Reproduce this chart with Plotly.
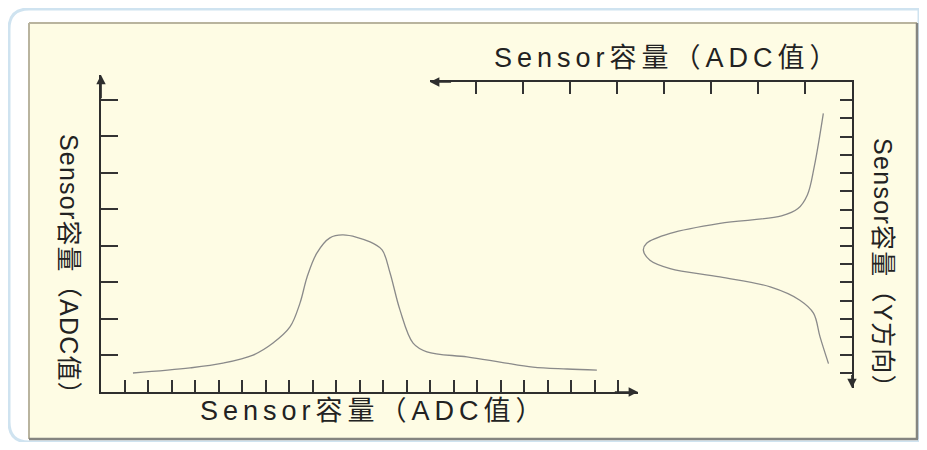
import plotly.graph_objects as go

OFF = 8              # browser body margin
W, H = 927 - 2 * OFF, 450 - 2 * OFF

# ---- data (axis units: one unit = one tick step) ----
# left chart: Sensor capacity profile along X
left_x = [1.36, 3.79, 5.19, 6.47, 7.32, 8.04, 8.47, 8.77, 9.19, 9.74, 10.3, 11.45, 11.96, 12.3, 12.72, 13.28, 13.87, 15.57, 16.98, 18.38, 19.83, 21.1]
left_y = [0.52, 0.66, 0.79, 1.01, 1.34, 1.78, 2.44, 3.15, 3.81, 4.22, 4.30, 4.11, 3.89, 3.26, 2.25, 1.34, 1.10, 0.96, 0.82, 0.68, 0.63, 0.60]
left_xticks = list(range(1, 23))
left_yticks = list(range(1, 9))

# right chart: Sensor capacity profile along Y (value grows leftwards, position grows downwards)
right_val = [0.61, 0.80, 0.95, 1.15, 1.50, 2.81, 3.87, 4.37, 4.44, 4.30, 3.87, 2.81, 1.74, 1.11, 0.82, 0.68, 0.50]
right_pos = [1.72, 4.60, 6.20, 6.95, 7.35, 7.76, 8.31, 8.85, 9.23, 9.78, 10.24, 10.70, 11.25, 11.98, 12.69, 13.99, 15.46]
right_xticks = list(range(1, 9))
right_yticks = list(range(1, 17))

label_adc = "Sensor容量（ADC值）"
label_y = "Sensor容量（Y方向）"

FONT = "Liberation Sans, Noto Sans CJK SC, sans-serif"
AX = "#2e2e2e"
CURVE = "#8a8a8a"


def px(x):
    return (x - OFF) / W


def py(y):
    return 1 - (y - OFF) / H


def spaced(text, sp):
    return f'<span style="letter-spacing:{sp}px">{text}</span>'


fig = go.Figure()
fig.add_trace(go.Scatter(x=left_x, y=left_y, mode="lines", xaxis="x", yaxis="y",
                         line=dict(color=CURVE, width=1.3, shape="spline", smoothing=1.0),
                         hoverinfo="skip", showlegend=False))
fig.add_trace(go.Scatter(x=right_val, y=right_pos, mode="lines", xaxis="x2", yaxis="y2",
                         line=dict(color=CURVE, width=1.3, shape="spline", smoothing=1.0),
                         hoverinfo="skip", showlegend=False))

common = dict(showline=True, linecolor=AX, linewidth=1.7, ticks="inside", tickcolor="#333",
              tickwidth=1.6, showticklabels=False, showgrid=False, zeroline=False, fixedrange=True)

fig.update_layout(
    width=W, height=H,
    margin=dict(l=0, r=0, t=0, b=0),
    paper_bgcolor="white", plot_bgcolor="rgba(0,0,0,0)",
    xaxis=dict(domain=[px(101), px(638)], range=[0, 22.85], tickvals=left_xticks, ticklen=12,
               anchor="y", **common),
    yaxis=dict(domain=[py(392), py(75)], range=[0, 8.68], tickvals=left_yticks, ticklen=17,
               anchor="x", **common),
    xaxis2=dict(domain=[px(430), px(852)], range=[8.98, 0], tickvals=right_xticks, ticklen=12,
                side="top", anchor="y2", **common),
    yaxis2=dict(domain=[py(388), py(82)], range=[16.8, 0], tickvals=right_yticks, ticklen=12,
                side="right", anchor="x2", **common),
)

# ---- frame shapes ----
r = 20
x0, y0, x1, y1 = 9, 9, 919, 442
path = (f"M {px(x0 + r)},{py(y0)} L {px(x1)},{py(y0)} L {px(x1)},{py(y1)} "
        f"L {px(x0 + r)},{py(y1)} Q {px(x0)},{py(y1)} {px(x0)},{py(y1 - r)} "
        f"L {px(x0)},{py(y0 + r)} Q {px(x0)},{py(y0)} {px(x0 + r)},{py(y0)} Z")
fig.add_shape(type="path", path=path, xref="paper", yref="paper",
              line=dict(color="#cfe3f0", width=3), fillcolor="white", layer="below")
PR, PB = 917, 439
fig.add_shape(type="rect", xref="paper", yref="paper", x0=px(29), x1=px(PR), y0=py(PB), y1=py(23),
              line=dict(width=0), fillcolor="#fefce4", layer="below")
# light top/left edge, darker bottom/right edge
fig.add_shape(type="line", xref="paper", yref="paper", x0=px(29), x1=px(PR), y0=py(23), y1=py(23),
              line=dict(color="#b9b49e", width=2), layer="below")
fig.add_shape(type="line", xref="paper", yref="paper", x0=px(29), x1=px(29), y0=py(23), y1=py(PB),
              line=dict(color="#b9b49e", width=2), layer="below")
fig.add_shape(type="line", xref="paper", yref="paper", x0=px(29), x1=px(PR + 1), y0=py(PB), y1=py(PB),
              line=dict(color="#858580", width=2.5), layer="below")
fig.add_shape(type="line", xref="paper", yref="paper", x0=px(PR), x1=px(PR), y0=py(23), y1=py(PB),
              line=dict(color="#858580", width=2.5), layer="below")

# ---- arrowheads on axis ends ----
arrow = dict(text="", showarrow=True, arrowhead=2, arrowsize=1.1, arrowwidth=1.7, arrowcolor=AX)
fig.add_annotation(x=22.85, y=0, ax=21.8, ay=0, xref="x", yref="y", axref="x", ayref="y", **arrow)
fig.add_annotation(x=0, y=8.68, ax=0, ay=8.0, xref="x", yref="y", axref="x", ayref="y", **arrow)
fig.add_annotation(x=8.98, y=0, ax=8.5, ay=0, xref="x2", yref="y2", axref="x2", ayref="y2", **arrow)
fig.add_annotation(x=0, y=16.8, ax=0, ay=16.0, xref="x2", yref="y2", axref="x2", ayref="y2", **arrow)

# ---- axis titles ----
tf = dict(family=FONT, size=25, color="#222222")
tf_h = dict(family=FONT, size=27, color="#222222")
ann = dict(xref="paper", yref="paper", showarrow=False, xanchor="center", yanchor="middle")
fig.add_annotation(x=px(374), y=py(411), text=spaced(label_adc, 5), font=tf_h, **ann)
fig.add_annotation(x=px(668), y=py(58), text=spaced(label_adc, 5), font=tf_h, **ann)
fig.add_annotation(x=px(69), y=py(271), text=spaced(label_adc, 1.2), textangle=90, font=tf, **ann)
fig.add_annotation(x=px(883), y=py(269), text=spaced(label_y, 1.3), textangle=90, font=tf, **ann)

fig.write_html("out.html")
